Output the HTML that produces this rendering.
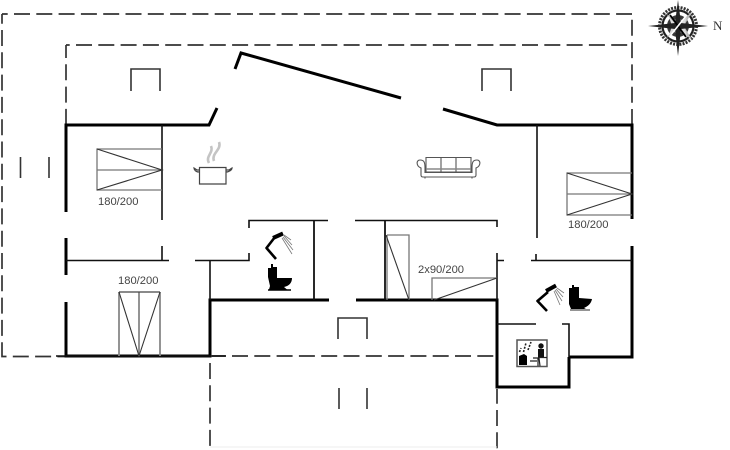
<!DOCTYPE html>
<html><head><meta charset="utf-8"><style>
html,body{margin:0;padding:0;background:#fff;width:730px;height:450px;overflow:hidden}
svg{display:block;filter:blur(.35px)}
text{font-family:"Liberation Sans",sans-serif;font-size:11.2px;fill:#444}
</style></head><body>
<svg width="730" height="450" viewBox="0 0 730 450" fill="none" stroke-linecap="butt">
<!-- dashed -->
<g stroke="#333" stroke-width="1.7" stroke-dasharray="16 6.3">
<path d="M2 14H632" stroke-dashoffset="10.3"/>
<path d="M2 14V345" stroke-dashoffset="6.3"/>
<path d="M2 345V356.500H66"/>
<path d="M632 14V125" stroke-dashoffset="16.5"/>
<path d="M66 45H632" stroke-dashoffset="12.3"/>
<path d="M66 45V125" stroke-dashoffset="3"/>
<path d="M212 356H495" stroke-dashoffset="2.3"/>
<path d="M210 363V446"/>
<path d="M497 389V450" stroke-dashoffset="1.3"/>
</g>
<path d="M210 447H497" stroke="#eee" stroke-width="1"/>
<!-- thick walls -->
<g stroke="#000" stroke-width="3">
<path d="M66 302V356H210V300H329"/>
<path d="M66 212V125H209L217 108"/>
<path d="M66 238V275"/>
<path d="M235 69L241 53L401 98"/>
<path d="M443 109L497 125H632V219"/>
<path d="M632 246V357H569"/>
<path d="M356 300H497V387H569V357"/>
</g>
<g stroke="#111" stroke-width="1.6">
<path d="M56 356H226" stroke-width="1.4"/>
<path d="M162 125V220"/>
<path d="M537 125V238"/>
<path d="M66 260.500H169M162 246V261"/>
<path d="M195 260.500H249V253"/>
<path d="M210 260V300"/>
<path d="M249 228V220.500H328"/>
<path d="M314 220V300" stroke-width="1.8"/>
<path d="M355 220.500H497V227"/>
<path d="M385 220V300" stroke-width="1.8"/>
<path d="M497 253V300"/>
<path d="M497 260.500H504M531 260.500H632M536 254V260"/>
<path d="M497 324H536M562 324H569V357"/>
</g>
<!-- windows -->
<g stroke="#333" stroke-width="1.6">
<path d="M131 91V69H160V91"/>
<path d="M482 91V69H511V91"/>
<path d="M338 339V318H367V339"/>
<path d="M339 388V409M367 388V409"/>
<path d="M20.500 157V178M49 157V178"/>
</g>
<!-- beds -->
<g stroke="#777" stroke-width="1.3">
<path d="M162 149H97V190H162M97 170H162"/>
<path d="M632 173H567V215H632M567 194H632"/>
<path d="M119 356V292M139 292V356M160 292V356" stroke="#888" stroke-width="1.8"/>
<path d="M119 292H160" stroke="#444" stroke-width="1.3"/>
<path d="M387 235H409V300M387 235V300"/>
<path d="M432 300V278H497"/>
</g>
<g stroke="#333" stroke-width="1.1">
<path d="M97 149L162 170L97 190"/>
<path d="M567 173L632 194L567 215"/>
<path d="M119 292L139 356L160 292"/>
<path d="M386 235L409 300"/>
<path d="M434 300L497 278"/>
</g>
<text x="98" y="205">180/200</text>
<text x="568" y="228">180/200</text>
<text x="118" y="284">180/200</text>
<text x="418" y="273">2x90/200</text>
<!-- pot -->
<g stroke="#444" stroke-width="1.2">
<path d="M199.500 167.500H226V184H199.500Z"/>
<path d="M199 172C196 172 194 170 194 168L197 170H199M226 172C229 172 232 170 232 168L229 170H226"/>
</g>
<path d="M209 163C205 156 214 153 211 146M214 161C211 153 222 150 219 142" stroke="#c4c4c4" stroke-width="2.6"/>
<!-- sofa -->
<g stroke="#555" stroke-width="1.1">
<path d="M426 157.500H471V172H426ZM441 157.500V172M456 157.500V172"/>
<path d="M426 169H471" stroke="#888" stroke-width="1.6"/>
<path d="M421 168C416 166 416 160 420 160C424 160 425 162 425 168V172.500H472V168C472 162 473 160 477 160C481 160 481 166 476 168V175Q476 177 474 177H423Q421 177 421 175Z"/>
<path d="M425 177V178.500M472 177V178.500"/>
</g>
<!-- shower 1 -->
<path d="M275 237L266.500 248L276 259" stroke="#000" stroke-width="2.6" stroke-linejoin="round"/>
<path d="M273 238L283 233.500" stroke="#000" stroke-width="4"/>
<path d="M284 235L291 240M284 236L292 245M283 237L293 250M282 238L292 254" stroke="#777" stroke-width=".8"/>
<path d="M271 264H273V267H277V278H292C292 283 289 286 284 287L287 289.500H269L270 286L268 277V268H271Z" fill="#000"/>
<path d="M268 290H291" stroke="#000" stroke-width="1.5"/>
<!-- shower 2 -->
<path d="M548 292L537.500 301L547 311" stroke="#000" stroke-width="2.6" stroke-linejoin="round"/>
<path d="M546 291L556 285.500" stroke="#000" stroke-width="4"/>
<path d="M557 288L564 293M556 289L563 297M555 290L562 301M554 291L560 305" stroke="#777" stroke-width=".8"/>
<path d="M572 285H574V287H579V298L592 299C591 304 588 306 584 308L586 309H571L569 304V288H572Z" fill="#000"/>
<path d="M570 310H590" stroke="#555" stroke-width="1.3"/>
<!-- sauna -->
<rect x="517" y="340" width="30" height="26.500" fill="#fff" stroke="#555" stroke-width="1.5"/>
<path d="M519 365V356L524 354L527 356V365Z" fill="#000"/>
<path d="M519.500 352L521 348M523.500 352L526 343M528 350L531 342" stroke="#222" stroke-width="1.6" stroke-dasharray="2 1.4"/>
<circle cx="541" cy="346" r="2.700" fill="#111"/>
<path d="M538 349H544V358H538Z" fill="#111"/>
<path d="M533 358H539L540 366M530 361H537M538 357.500H547M538 357.500V366" stroke="#222" stroke-width="1.2"/>
<!-- compass -->
<g>
<circle cx="678" cy="26" r="18.500" stroke="#333" stroke-width="3" stroke-dasharray="2 1.2"/>
<circle cx="678" cy="26" r="15.500" stroke="#222" stroke-width="2.2"/>
<circle cx="678" cy="26" r="12.500" fill="#fff"/>
<circle cx="678" cy="26" r="11" fill="#3a3a3a"/>
<path d="M678 26L664 12L674 20L678 18L682 20L692 12L684 26L692 40L682 32L678 34L674 32L664 40Z" fill="#bbb"/>
<path d="M678 26L669 17L672 26L669 35L678 29L687 35L684 26L687 17Z" fill="#ddd"/>
<path d="M678 0L681 23L708 26L681 29L678 56L675 29L648 26L675 23Z" fill="#222"/>
<path d="M678 26L670 15M678 26L686 37" stroke="#000" stroke-width="1.8"/>
<path d="M678 26L686 16M678 26L670 36" stroke="#fff" stroke-width="1.6"/>
</g>
<text x="713" y="30" style="font-family:'Liberation Serif',serif;font-size:13px;fill:#333">N</text>
</svg>
</body></html>
